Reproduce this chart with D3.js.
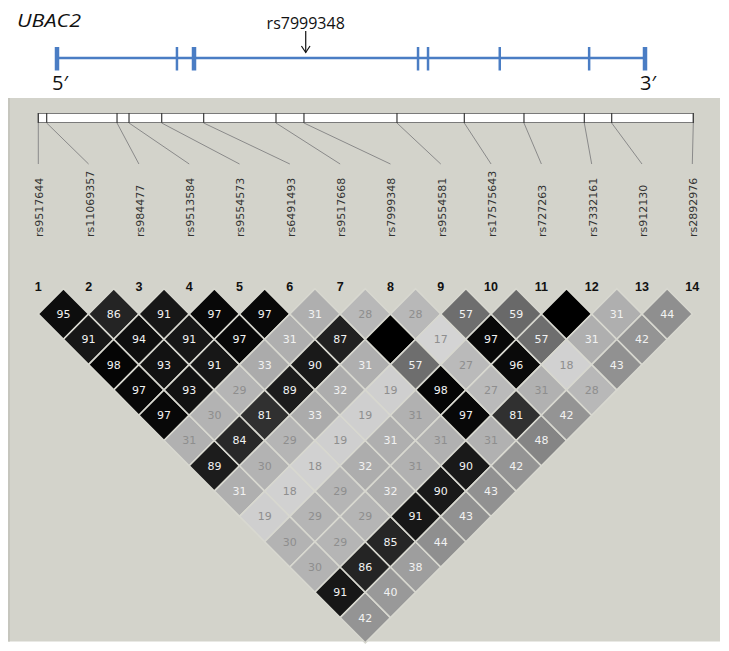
<!DOCTYPE html>
<html><head><meta charset="utf-8">
<script src="https://cdn.jsdelivr.net/npm/d3@7/dist/d3.min.js"></script>
<style>body{margin:0;background:#fff}svg{display:block}</style>
</head><body>
<svg id="chart" width="729" height="651"></svg>
<script>
// ---------- data ----------
const geneName = "UBAC2";
const highlightSnp = "rs7999348";
const highlightGenePos = 423;                 // relative position along gene (0..1000)
const exonPositions = [0, 204, 233, 614, 631, 753, 905, 1000];
const exonWide = [true, false, true, false, false, false, false, true];
const snpIds = ["rs9517644","rs11069357","rs984477","rs9513584","rs9554573","rs6491493",
  "rs9517668","rs7999348","rs9554581","rs17575643","rs727263","rs7332161","rs912130","rs2892976"];
const snpPositions = [0, 12.8, 120.2, 138.5, 188.4, 252.5, 362.9, 405.6, 547.6, 650.4, 741.5, 833.6, 875.4, 1000];
// pairwise LD (x100) from marker i to markers i+1..14
const ld1  = [95, 91, 98, 97, 97, 30.6, 89, 31.4, 19, 30, 30, 91, 42];
const ld2  = [86, 94, 93, 93, 30, 84, 30, 18, 29, 29, 86, 40];
const ld3  = [91, 91, 91, 29, 81, 29, 18, 29, 29, 85, 38];
const ld4  = [97, 97, 33, 89, 33, 19, 32, 32, 91, 44];
const ld5  = [97, 31.4, 90, 32, 19, 31.4, 30.6, 90, 43];
const ld6  = [31.4, 87, 31.4, 19, 30.6, 30.6, 90, 43];
const ld7  = [28, 100, 57, 98, 97, 30.6, 42];
const ld8  = [28, 17, 27, 27, 81, 48];
const ld9  = [57, 97, 96, 30.6, 42];
const ld10 = [59, 57, 18, 28];
const ld11 = [100, 31.4, 43];
const ld12 = [31.4, 42];
const ld13 = [44];
const ldRows = [ld1, ld2, ld3, ld4, ld5, ld6, ld7, ld8, ld9, ld10, ld11, ld12, ld13];

// ---------- drawing ----------
const svg = d3.select("#chart");
const n = snpIds.length;
const idx = d3.range(1, n + 1);

// gene diagram
const gx = d3.scaleLinear().domain([0, 1000]).range([57, 645]);
const blue = "#4a7dc4";
svg.append("text").attr("x", 17).attr("y", 27).attr("font-family", "Open Sans, sans-serif")
  .attr("font-style", "italic").attr("font-size", 19).attr("textLength", 64)
  .attr("lengthAdjust", "spacingAndGlyphs")
  .attr("fill", "#111").text(geneName);
svg.append("line").attr("x1", gx(0)).attr("x2", gx(1000)).attr("y1", 58).attr("y2", 58)
  .attr("stroke", blue).attr("stroke-width", 2.5);
svg.selectAll(".exon").data(exonPositions).join("line").attr("class", "exon")
  .attr("x1", d => gx(d)).attr("x2", d => gx(d)).attr("y1", 47).attr("y2", 70.5)
  .attr("stroke", blue).attr("stroke-width", (d, i) => exonWide[i] ? 4.5 : 2.5);
svg.append("text").attr("x", gx(highlightGenePos)).attr("y", 28.5).attr("text-anchor", "middle")
  .attr("font-family", "Open Sans, sans-serif").attr("font-size", 16).attr("fill", "#111").text(highlightSnp);
const ax = gx(highlightGenePos);
svg.append("line").attr("x1", ax).attr("x2", ax).attr("y1", 31).attr("y2", 52.5)
  .attr("stroke", "#111").attr("stroke-width", 1.2);
svg.append("polyline").attr("points", `${ax-4.3},46 ${ax},52.5 ${ax+4.3},46`)
  .attr("fill", "none").attr("stroke", "#111").attr("stroke-width", 1.2);
svg.append("text").attr("x", gx(0) - 5).attr("y", 90).attr("font-family", "Open Sans, sans-serif")
  .attr("font-size", 20).attr("fill", "#111").text("5\u2032");
svg.append("text").attr("x", gx(1000) - 5).attr("y", 90).attr("font-family", "Open Sans, sans-serif")
  .attr("font-size", 20).attr("fill", "#111").text("3\u2032");

// panel
const bg = "#d3d3cb";
svg.append("rect").attr("x", 8).attr("y", 98).attr("width", 712).attr("height", 543.5).attr("fill", bg);
svg.append("rect").attr("x", 8).attr("y", 98).attr("width", 2).attr("height", 543.5).attr("fill", "#c6c6be");

// physical position bar
const px = d3.scaleLinear().domain([0, 1000]).range([38.3, 693.3]);
svg.append("rect").attr("x", px(0)).attr("y", 113.5).attr("width", px(1000) - px(0)).attr("height", 9)
  .attr("fill", "#fff").attr("stroke", "#7a7a7a").attr("stroke-width", 1);
svg.selectAll(".tick").data(snpPositions).join("line").attr("class", "tick")
  .attr("x1", d => px(d)).attr("x2", d => px(d)).attr("y1", 113).attr("y2", 123)
  .attr("stroke", "#3a3a3a").attr("stroke-width", 1.2);

// marker index scale
const mx = d3.scalePoint().domain(idx).range([38.3, 692.3]);
svg.selectAll(".conn").data(idx).join("line").attr("class", "conn")
  .attr("x1", d => px(snpPositions[d - 1])).attr("y1", 123)
  .attr("x2", d => mx(d)).attr("y2", 164)
  .attr("stroke", "#8a8a8a").attr("stroke-width", 1);
svg.selectAll(".snplab").data(idx).join("text").attr("class", "snplab")
  .attr("transform", d => `translate(${mx(d) + 1},237) rotate(-90)`)
  .attr("dy", "0.36em").attr("font-family", "DejaVu Sans, sans-serif").attr("font-size", 11)
  .attr("fill", "#333").text(d => snpIds[d - 1]);
svg.selectAll(".num").data(idx).join("text").attr("class", "num")
  .attr("x", d => mx(d)).attr("y", 290.5).attr("text-anchor", "middle")
  .attr("font-family", "Liberation Sans, Arial, sans-serif").attr("font-weight", "bold")
  .attr("font-size", 12.5).attr("fill", "#111").text(d => d);

// LD triangle
const half = mx.step() / 2;
const vHalf = 25.3;
const y0 = 288.7;
const cells = [];
ldRows.forEach((row, r) => row.forEach((v, k) => {
  const i = r + 1, j = i + k + 1;
  cells.push({ i, j, v });
}));
const shade = d3.scaleLinear().domain([0, 100]).range([255, 0]);
const g = svg.append("g");
const cg = g.selectAll(".cell").data(cells).join("g").attr("class", "cell")
  .attr("transform", d => `translate(${(mx(d.i) + mx(d.j)) / 2},${y0 + (d.j - d.i) * vHalf})`);
cg.append("path")
  .attr("d", `M0,${-vHalf}L${half},0L0,${vHalf}L${-half},0Z`)
  .attr("fill", d => { const c = Math.round(shade(d.v)); return d3.rgb(c, c, c); })
  .attr("stroke", "#d8d8d0").attr("stroke-width", 1.6);
cg.filter(d => Math.round(d.v) < 100).append("text")
  .attr("text-anchor", "middle").attr("dy", "0.36em")
  .attr("font-family", "DejaVu Sans, sans-serif").attr("font-size", 11)
  .attr("fill", d => d.v > 31 ? "#f2f2f2" : "#8e8e8e")
  .text(d => Math.round(d.v));
</script>
</body></html>
